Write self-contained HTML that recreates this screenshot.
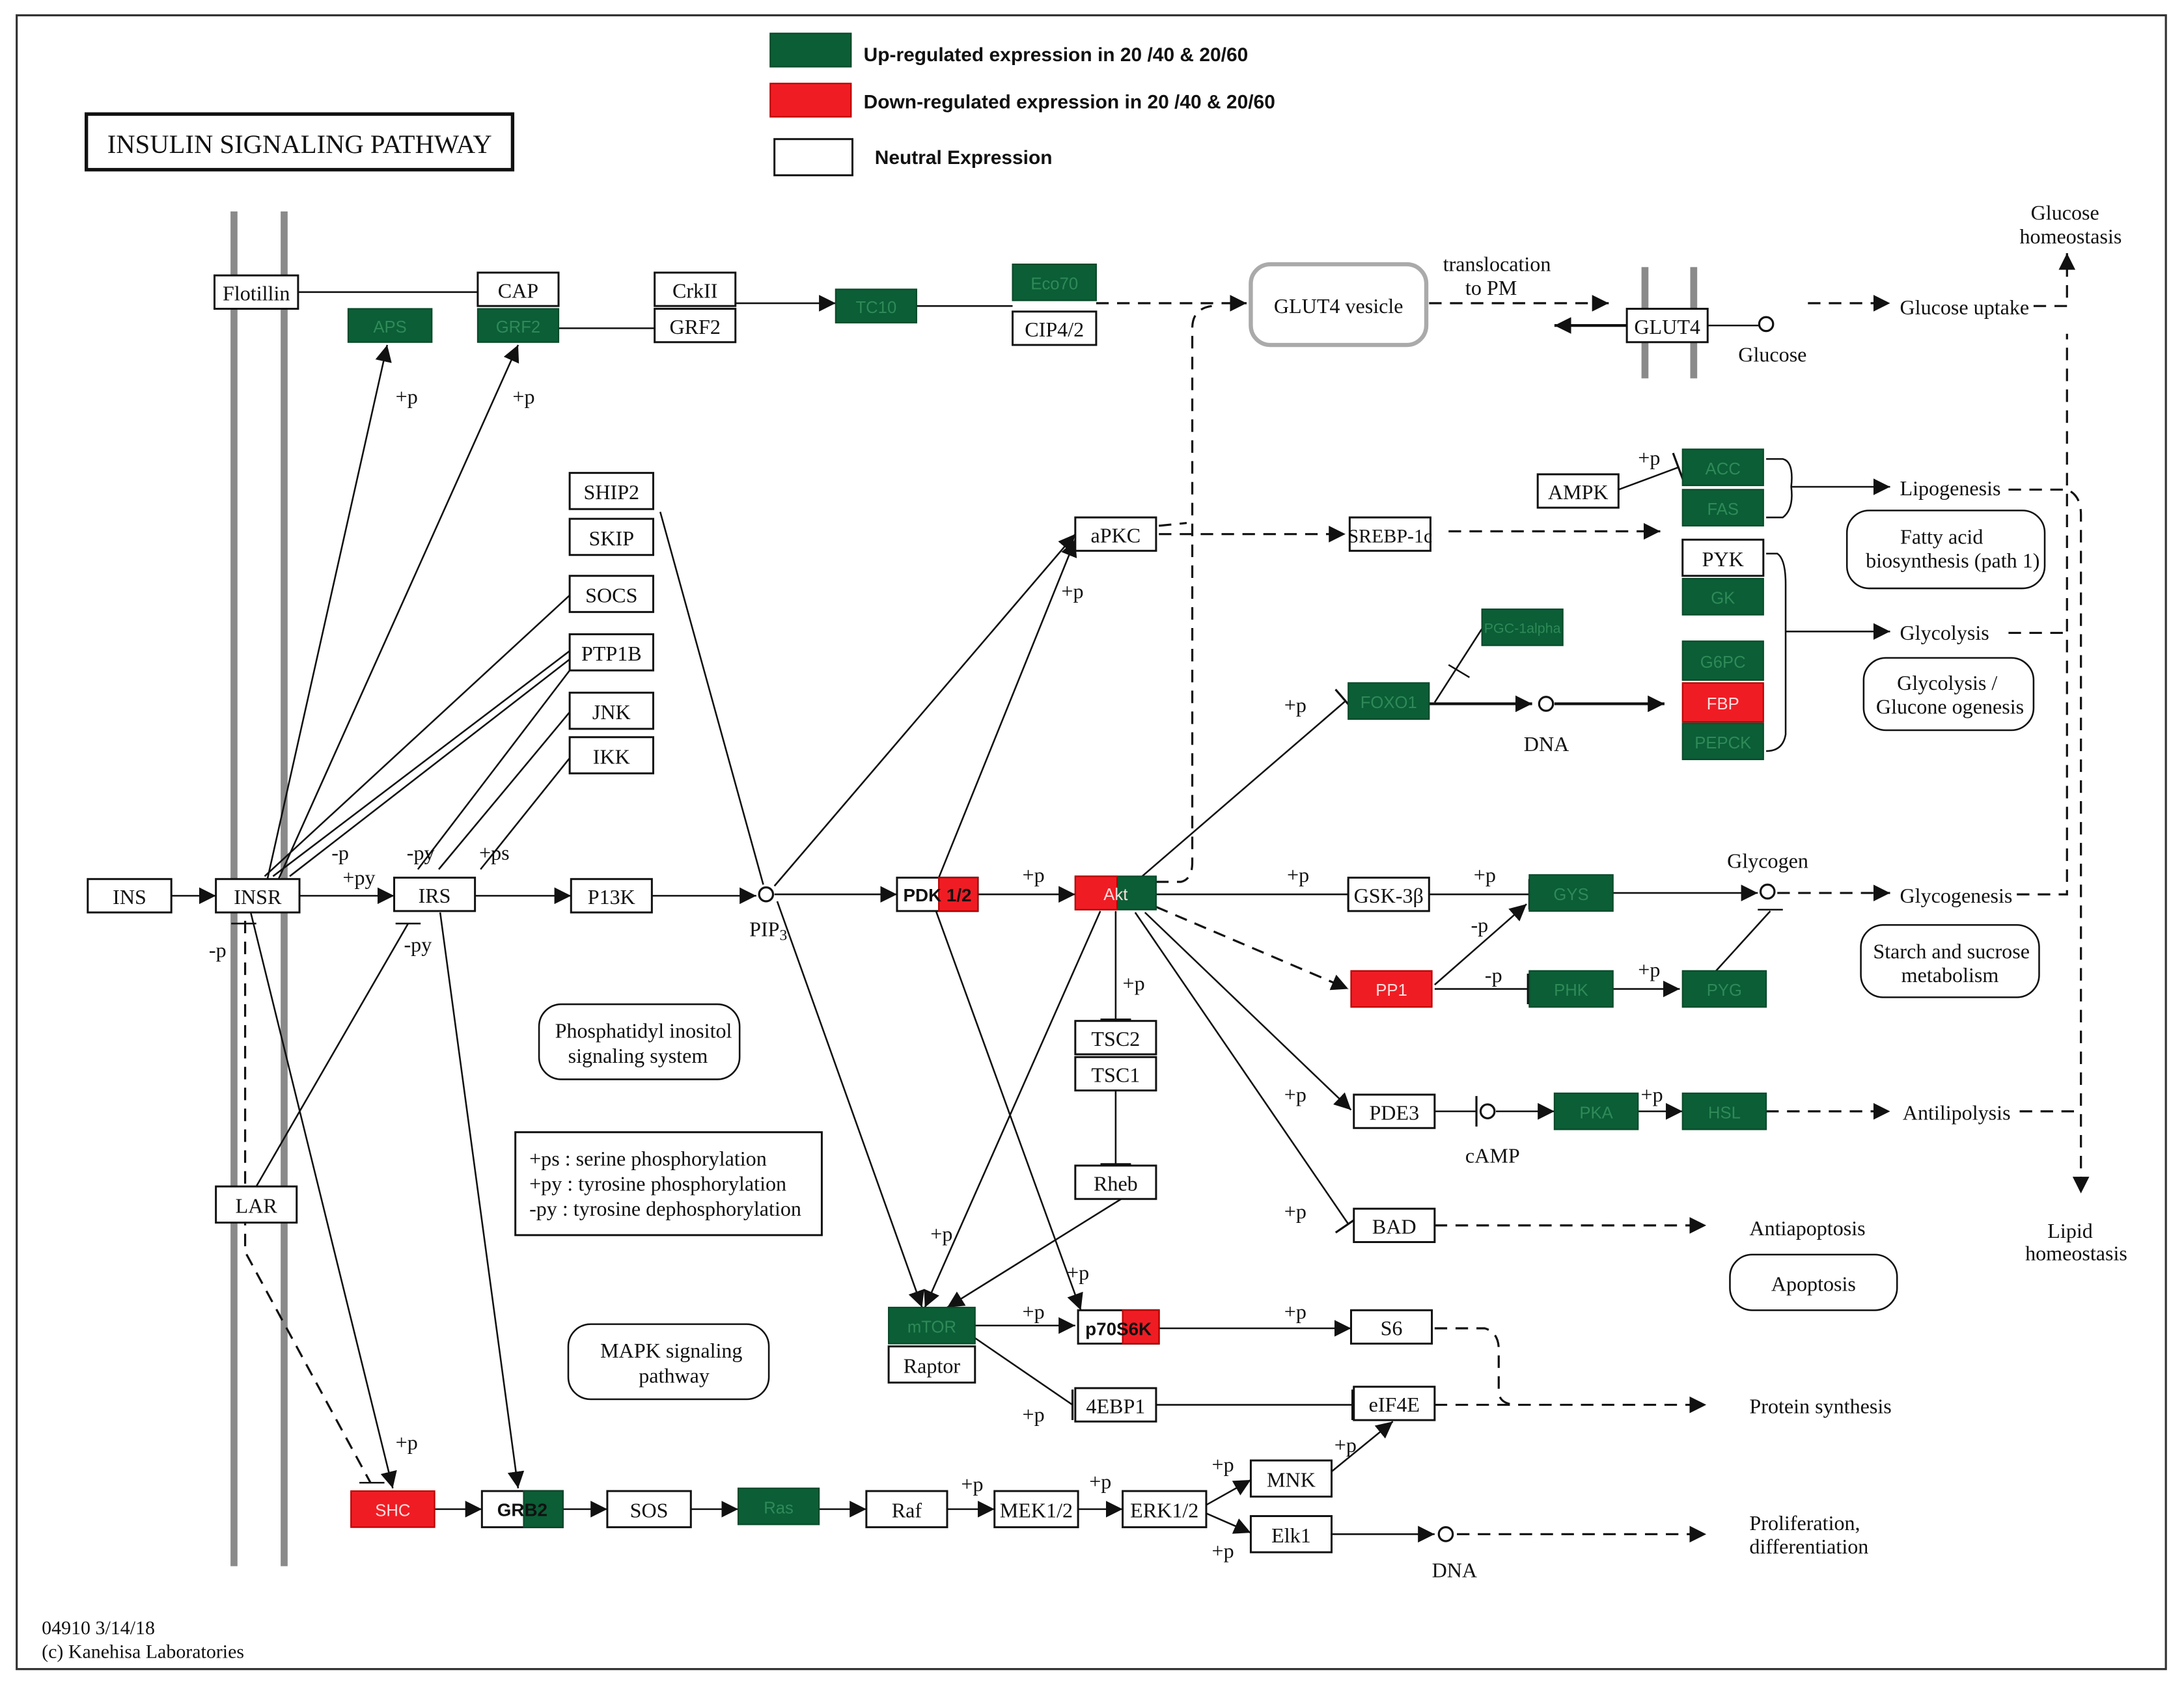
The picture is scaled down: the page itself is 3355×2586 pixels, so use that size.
<!DOCTYPE html>
<html><head><meta charset="utf-8"><style>
html,body{margin:0;padding:0;background:#fff}
svg{display:block}
text{font-family:"Liberation Serif",serif;font-size:15px;fill:#111}
.b{fill:#fff;stroke:#111;stroke-width:1.4}
.g{fill:#0b5e36;stroke:#0a4a2a;stroke-width:1}
.r{fill:#f01c24;stroke:#b00;stroke-width:1}
.gt{fill:#2f8a57;font-family:"Liberation Sans",sans-serif;font-size:12px}
.rt{fill:#ffdede;font-family:"Liberation Sans",sans-serif;font-size:12px}
.l{stroke:#111;stroke-width:1.2;fill:none}
.d{stroke:#111;stroke-width:1.5;fill:none;stroke-dasharray:9,6}
.rd{fill:#fff;stroke:#111;stroke-width:1.2}
.m{stroke:#8a8a8a;stroke-width:5}
</style></head><body>
<svg width="3355" height="2586" viewBox="0 0 1568 1210" preserveAspectRatio="none" xmlns="http://www.w3.org/2000/svg">
<defs>
<marker id="a" markerUnits="userSpaceOnUse" markerWidth="14" markerHeight="12" refX="12" refY="6" orient="auto"><path d="M0,0 L12,6 L0,12 z" fill="#111"/></marker>
<marker id="t" markerUnits="userSpaceOnUse" markerWidth="4" markerHeight="22" refX="2" refY="11" orient="auto"><path d="M2,0 L2,22" stroke="#111" stroke-width="1.5"/></marker>
</defs>
<rect x="12" y="11" width="1543" height="1189" fill="none" stroke="#333" stroke-width="1.5"/>
<!-- legend -->
<rect x="553" y="24" width="58" height="24" class="g"/>
<text x="620" y="44" style="font-family:'Liberation Sans',sans-serif;font-size:14px;font-weight:bold">Up-regulated expression in 20 /40 &amp; 20/60</text>
<rect x="553" y="60" width="58" height="24" class="r"/>
<text x="620" y="78" style="font-family:'Liberation Sans',sans-serif;font-size:14px;font-weight:bold">Down-regulated expression in 20 /40 &amp; 20/60</text>
<rect x="556" y="100" width="56" height="26" class="b"/>
<text x="628" y="118" style="font-family:'Liberation Sans',sans-serif;font-size:14px;font-weight:bold">Neutral Expression</text>
<rect x="62" y="82" width="306" height="40" fill="#fff" stroke="#111" stroke-width="2.5"/>
<text x="77" y="110" style="font-size:19px">INSULIN  SIGNALING  PATHWAY</text>
<!-- membranes -->
<line x1="168" y1="152" x2="168" y2="1126" class="m"/><line x1="204" y1="152" x2="204" y2="1126" class="m"/>
<line x1="1181" y1="192" x2="1181" y2="272" class="m"/><line x1="1216" y1="192" x2="1216" y2="272" class="m"/>
<!-- edges -->
<g>
<line x1="214" y1="210" x2="343" y2="210" class="l"/>
<line x1="401" y1="236" x2="470" y2="236" class="l"/>
<line x1="528" y1="218" x2="600" y2="218" class="l" marker-end="url(#a)"/>
<line x1="658" y1="220" x2="727" y2="220" class="l"/>
<line x1="787" y1="218" x2="895" y2="218" class="d" marker-end="url(#a)"/>
<line x1="1026" y1="218" x2="1155" y2="218" class="d" marker-end="url(#a)"/>
<line x1="1168" y1="234" x2="1116" y2="234" class="l" style="stroke-width:2" marker-end="url(#a)"/>
<line x1="1226" y1="234" x2="1263" y2="234" class="l"/>
<line x1="1298" y1="218" x2="1357" y2="218" class="d" marker-end="url(#a)"/>
<path d="M1460,220 L1484,220 L1484,182" class="d" marker-end="url(#a)"/>
<line x1="192" y1="632" x2="278" y2="248" class="l" marker-end="url(#a)"/>
<line x1="200" y1="632" x2="372" y2="248" class="l" marker-end="url(#a)"/>
<line x1="123" y1="644" x2="155" y2="644" class="l" marker-end="url(#a)"/>
<line x1="215" y1="644" x2="283" y2="644" class="l" marker-end="url(#a)"/>
<line x1="341" y1="644" x2="410" y2="644" class="l" marker-end="url(#a)"/>
<line x1="468" y1="644" x2="543" y2="644" class="l" marker-end="url(#a)"/>
<line x1="556" y1="643" x2="644" y2="643" class="l" marker-end="url(#a)"/>
<line x1="702" y1="643" x2="772" y2="643" class="l" marker-end="url(#a)"/>
<line x1="830" y1="643" x2="968" y2="643" class="l" marker-end="url(#t)"/>
<line x1="1026" y1="643" x2="1098" y2="643" class="l" marker-end="url(#t)"/>
<line x1="1158" y1="642" x2="1262" y2="642" class="l" marker-end="url(#a)"/>
<line x1="1276" y1="642" x2="1357" y2="642" class="d" marker-end="url(#a)"/>
<path d="M1448,643 L1484,643 L1484,240" class="d"/>
<line x1="474" y1="368" x2="548" y2="636" class="l"/>
<line x1="409" y1="428" x2="190" y2="630" class="l"/>
<line x1="409" y1="468" x2="196" y2="630" class="l"/>
<line x1="409" y1="474" x2="208" y2="630" class="l"/>
<line x1="409" y1="482" x2="300" y2="625" class="l"/>
<line x1="409" y1="512" x2="315" y2="625" class="l"/>
<line x1="409" y1="545" x2="345" y2="625" class="l"/>
<line x1="556" y1="637" x2="772" y2="384" class="l" marker-end="url(#a)"/>
<line x1="558" y1="648" x2="662" y2="940" class="l" marker-end="url(#a)"/>
<line x1="674" y1="631" x2="772" y2="388" class="l" marker-end="url(#a)"/>
<line x1="672" y1="655" x2="776" y2="942" class="l" marker-end="url(#a)"/>
<line x1="790" y1="655" x2="664" y2="940" class="l" marker-end="url(#a)"/>
<line x1="805" y1="862" x2="680" y2="940" class="l" marker-end="url(#a)"/>
<line x1="801" y1="655" x2="801" y2="733" class="l" marker-end="url(#t)"/>
<line x1="801" y1="784" x2="801" y2="837" class="l" marker-end="url(#t)"/>
<line x1="820" y1="630" x2="966" y2="504" class="l" marker-end="url(#t)"/>
<line x1="1026" y1="506" x2="1100" y2="506" class="l" style="stroke-width:2" marker-end="url(#a)"/>
<line x1="1116" y1="506" x2="1195" y2="506" class="l" style="stroke-width:2" marker-end="url(#a)"/>
<line x1="1064" y1="452" x2="1030" y2="505" class="l"/><line x1="1040" y1="478" x2="1055" y2="487" class="l"/>
<line x1="830" y1="652" x2="968" y2="711" class="d" marker-end="url(#a)"/>
<line x1="1030" y1="708" x2="1096" y2="650" class="l" marker-end="url(#a)"/>
<line x1="1030" y1="711" x2="1097" y2="711" class="l" marker-end="url(#t)"/>
<line x1="1158" y1="711" x2="1206" y2="711" class="l" marker-end="url(#a)"/>
<line x1="1232" y1="698" x2="1271" y2="655" class="l"/><line x1="1262" y1="654" x2="1280" y2="654" class="l"/>
<line x1="822" y1="656" x2="970" y2="798" class="l" marker-end="url(#a)"/>
<line x1="1030" y1="799" x2="1060" y2="799" class="l" marker-end="url(#t)"/>
<line x1="1074" y1="799" x2="1116" y2="799" class="l" marker-end="url(#a)"/>
<line x1="1176" y1="799" x2="1208" y2="799" class="l" marker-end="url(#a)"/>
<line x1="1268" y1="799" x2="1357" y2="799" class="d" marker-end="url(#a)"/>
<path d="M1450,799 L1492,799" class="d"/>
<line x1="815" y1="656" x2="968" y2="880" class="l" marker-end="url(#t)"/>
<line x1="1030" y1="881" x2="1225" y2="881" class="d" marker-end="url(#a)"/>
<line x1="700" y1="953" x2="772" y2="953" class="l" marker-end="url(#a)"/>
<line x1="832" y1="955" x2="970" y2="955" class="l" marker-end="url(#a)"/>
<path d="M1030,955 L1066,955 Q1076,958 1076,970 L1076,1000 Q1076,1010 1090,1010" class="d"/>
<line x1="700" y1="962" x2="770" y2="1010" class="l"/><line x1="770" y1="1010" x2="770" y2="1010" class="l" marker-end="url(#t)"/>
<line x1="830" y1="1010" x2="971" y2="1010" class="l" marker-end="url(#t)"/>
<line x1="1030" y1="1010" x2="1225" y2="1010" class="d" marker-end="url(#a)"/>
<line x1="832" y1="384" x2="966" y2="384" class="d" marker-end="url(#a)"/>
<line x1="1040" y1="382" x2="1192" y2="382" class="d" marker-end="url(#a)"/>
<path d="M830,634 L848,634 Q856,632 856,620 L856,236 Q856,222 870,220" class="d"/>
<path d="M832,378 L852,376" class="d"/>
<line x1="1162" y1="352" x2="1205" y2="336" class="l" marker-end="url(#t)"/>
<path d="M1268,330 L1280,330 Q1288,332 1286,350 Q1288,366 1280,372 L1268,372" class="l"/>
<line x1="1286" y1="350" x2="1357" y2="350" class="l" marker-end="url(#a)"/>
<path d="M1268,398 L1276,398 Q1282,402 1282,420 L1282,528 Q1280,540 1268,540" class="l"/>
<line x1="1282" y1="454" x2="1357" y2="454" class="l" marker-end="url(#a)"/>
<path d="M1442,352 L1484,352 Q1494,356 1494,370 L1494,858" class="d" marker-end="url(#a)"/>
<line x1="1442" y1="455" x2="1484" y2="455" class="d"/>
<line x1="180" y1="656" x2="282" y2="1070" class="l" marker-end="url(#a)"/>
<path d="M176,662 L176,900 L266,1066" class="d"/><line x1="258" y1="1066" x2="276" y2="1066" class="l"/>
<line x1="166" y1="664" x2="184" y2="664" class="l"/>
<line x1="184" y1="853" x2="293" y2="664" class="l"/><line x1="284" y1="664" x2="302" y2="664" class="l"/>
<line x1="316" y1="656" x2="372" y2="1070" class="l" marker-end="url(#a)"/>
<line x1="312" y1="1085" x2="346" y2="1085" class="l" marker-end="url(#a)"/>
<line x1="404" y1="1085" x2="436" y2="1085" class="l" marker-end="url(#a)"/>
<line x1="496" y1="1085" x2="530" y2="1085" class="l" marker-end="url(#a)"/>
<line x1="588" y1="1085" x2="622" y2="1085" class="l" marker-end="url(#a)"/>
<line x1="680" y1="1085" x2="714" y2="1085" class="l" marker-end="url(#a)"/>
<line x1="774" y1="1085" x2="806" y2="1085" class="l" marker-end="url(#a)"/>
<line x1="866" y1="1082" x2="898" y2="1064" class="l" marker-end="url(#a)"/>
<line x1="866" y1="1088" x2="898" y2="1102" class="l" marker-end="url(#a)"/>
<line x1="956" y1="1058" x2="1000" y2="1022" class="l" marker-end="url(#a)"/>
<line x1="956" y1="1103" x2="1030" y2="1103" class="l" marker-end="url(#a)"/>
<line x1="1046" y1="1103" x2="1225" y2="1103" class="d" marker-end="url(#a)"/>
</g>
<!-- nodes -->
<g text-anchor="middle">
<rect x="154" y="198" width="60" height="24" class="b"/><text x="184" y="216">Flotillin</text>
<rect x="343" y="196" width="58" height="24" class="b"/><text x="372" y="214">CAP</text>
<rect x="250" y="222" width="60" height="24" class="g"/><text x="280" y="239" class="gt">APS</text>
<rect x="343" y="222" width="58" height="24" class="g"/><text x="372" y="239" class="gt">GRF2</text>
<rect x="470" y="196" width="58" height="24" class="b"/><text x="499" y="214">CrkII</text>
<rect x="470" y="222" width="58" height="24" class="b"/><text x="499" y="240">GRF2</text>
<rect x="600" y="208" width="58" height="24" class="g"/><text x="629" y="225" class="gt">TC10</text>
<rect x="727" y="190" width="60" height="26" class="g"/><text x="757" y="208" class="gt">Eco70</text>
<rect x="727" y="224" width="60" height="24" class="b"/><text x="757" y="242">CIP4/2</text>
<rect x="898" y="190" width="126" height="58" rx="14" fill="#fff" stroke="#aaa" stroke-width="3"/><text x="961" y="225">GLUT4 vesicle</text>
<rect x="1168" y="222" width="58" height="24" class="b"/><text x="1197" y="240">GLUT4</text>
<rect x="409" y="340" width="60" height="26" class="b"/><text x="439" y="359">SHIP2</text>
<rect x="409" y="373" width="60" height="26" class="b"/><text x="439" y="392">SKIP</text>
<rect x="409" y="414" width="60" height="26" class="b"/><text x="439" y="433">SOCS</text>
<rect x="409" y="456" width="60" height="26" class="b"/><text x="439" y="475">PTP1B</text>
<rect x="409" y="498" width="60" height="26" class="b"/><text x="439" y="517">JNK</text>
<rect x="409" y="530" width="60" height="26" class="b"/><text x="439" y="549">IKK</text>
<rect x="63" y="632" width="60" height="24" class="b"/><text x="93" y="650">INS</text>
<rect x="155" y="632" width="60" height="24" class="b"/><text x="185" y="650">INSR</text>
<rect x="283" y="631" width="58" height="24" class="b"/><text x="312" y="649">IRS</text>
<rect x="410" y="632" width="58" height="24" class="b"/><text x="439" y="650">P13K</text>
<rect x="644" y="631" width="58" height="24" class="b"/><rect x="674" y="631" width="28" height="24" class="r"/><text x="673" y="648" style="font-family:'Liberation Sans',sans-serif;font-size:13px;font-weight:bold">PDK 1/2</text>
<rect x="772" y="630" width="58" height="24" class="g"/><rect x="772" y="630" width="30" height="24" class="r"/><text x="801" y="647" class="rt">Akt</text>
<rect x="772" y="372" width="58" height="24" class="b"/><text x="801" y="390">aPKC</text>
<rect x="969" y="372" width="58" height="24" class="b"/><text x="998" y="390" style="font-size:14px">SREBP-1c</text>
<rect x="1104" y="341" width="58" height="24" class="b"/><text x="1133" y="359">AMPK</text>
<rect x="1208" y="323" width="58" height="26" class="g"/><text x="1237" y="341" class="gt">ACC</text>
<rect x="1208" y="352" width="58" height="26" class="g"/><text x="1237" y="370" class="gt">FAS</text>
<rect x="1208" y="388" width="58" height="26" class="b"/><text x="1237" y="407">PYK</text>
<rect x="1208" y="416" width="58" height="26" class="g"/><text x="1237" y="434" class="gt">GK</text>
<rect x="1064" y="438" width="58" height="26" class="g"/><text x="1093" y="455" class="gt" style="font-size:10px">PGC-1alpha</text>
<rect x="968" y="491" width="58" height="26" class="g"/><text x="997" y="509" class="gt">FOXO1</text>
<rect x="1208" y="461" width="58" height="28" class="g"/><text x="1237" y="480" class="gt">G6PC</text>
<rect x="1208" y="491" width="58" height="28" class="r"/><text x="1237" y="510" class="rt">FBP</text>
<rect x="1208" y="520" width="58" height="26" class="g"/><text x="1237" y="538" class="gt">PEPCK</text>
<rect x="968" y="631" width="58" height="24" class="b"/><text x="997" y="649">GSK-3β</text>
<rect x="1098" y="629" width="60" height="26" class="g"/><text x="1128" y="647" class="gt">GYS</text>
<rect x="970" y="698" width="58" height="26" class="r"/><text x="999" y="716" class="rt">PP1</text>
<rect x="1098" y="698" width="60" height="26" class="g"/><text x="1128" y="716" class="gt">PHK</text>
<rect x="1208" y="698" width="60" height="26" class="g"/><text x="1238" y="716" class="gt">PYG</text>
<rect x="772" y="734" width="58" height="24" class="b"/><text x="801" y="752">TSC2</text>
<rect x="772" y="760" width="58" height="24" class="b"/><text x="801" y="778">TSC1</text>
<rect x="772" y="838" width="58" height="24" class="b"/><text x="801" y="856">Rheb</text>
<rect x="972" y="787" width="58" height="24" class="b"/><text x="1001" y="805">PDE3</text>
<rect x="1116" y="786" width="60" height="26" class="g"/><text x="1146" y="804" class="gt">PKA</text>
<rect x="1208" y="786" width="60" height="26" class="g"/><text x="1238" y="804" class="gt">HSL</text>
<rect x="972" y="869" width="58" height="24" class="b"/><text x="1001" y="887">BAD</text>
<rect x="638" y="940" width="62" height="26" class="g"/><text x="669" y="958" class="gt">mTOR</text>
<rect x="638" y="968" width="62" height="26" class="b"/><text x="669" y="987">Raptor</text>
<rect x="774" y="942" width="58" height="24" class="b"/><rect x="806" y="942" width="26" height="24" class="r"/><text x="803" y="960" style="font-family:'Liberation Sans',sans-serif;font-size:13px;font-weight:bold">p70S6K</text>
<rect x="970" y="942" width="58" height="24" class="b"/><text x="999" y="960">S6</text>
<rect x="772" y="998" width="58" height="24" class="b"/><text x="801" y="1016">4EBP1</text>
<rect x="972" y="997" width="58" height="24" class="b"/><text x="1001" y="1015">eIF4E</text>
<rect x="155" y="853" width="58" height="26" class="b"/><text x="184" y="872">LAR</text>
<rect x="252" y="1072" width="60" height="26" class="r"/><text x="282" y="1090" class="rt">SHC</text>
<rect x="346" y="1072" width="58" height="26" class="b"/><rect x="376" y="1072" width="28" height="26" class="g"/><text x="375" y="1090" style="font-family:'Liberation Sans',sans-serif;font-size:13px;font-weight:bold">GRB2</text>
<rect x="436" y="1072" width="60" height="26" class="b"/><text x="466" y="1091">SOS</text>
<rect x="530" y="1070" width="58" height="26" class="g"/><text x="559" y="1088" class="gt">Ras</text>
<rect x="622" y="1072" width="58" height="26" class="b"/><text x="651" y="1091">Raf</text>
<rect x="714" y="1072" width="60" height="26" class="b"/><text x="744" y="1091">MEK1/2</text>
<rect x="806" y="1072" width="60" height="26" class="b"/><text x="836" y="1091">ERK1/2</text>
<rect x="898" y="1050" width="58" height="26" class="b"/><text x="927" y="1069">MNK</text>
<rect x="898" y="1090" width="58" height="26" class="b"/><text x="927" y="1109">Elk1</text>
<!-- rounded maps -->
<rect x="387" y="722" width="144" height="54" rx="16" class="rd"/><text x="462" y="746">Phosphatidyl inositol</text><text x="458" y="764">signaling system</text>
<rect x="408" y="952" width="144" height="54" rx="16" class="rd"/><text x="482" y="976">MAPK signaling</text><text x="484" y="994">pathway</text>
<rect x="1326" y="367" width="142" height="56" rx="16" class="rd"/><text x="1394" y="391">Fatty acid</text><text x="1402" y="408">biosynthesis (path 1)</text>
<rect x="1338" y="473" width="122" height="52" rx="16" class="rd"/><text x="1398" y="496">Glycolysis /</text><text x="1400" y="513">Glucone ogenesis</text>
<rect x="1336" y="665" width="128" height="52" rx="16" class="rd"/><text x="1401" y="689">Starch and sucrose</text><text x="1400" y="706">metabolism</text>
<rect x="1242" y="902" width="120" height="40" rx="16" class="rd"/><text x="1302" y="928">Apoptosis</text>
</g>
<!-- circles -->
<g fill="#fff" stroke="#111" stroke-width="1.5">
<circle cx="1268" cy="233" r="5"/><circle cx="550" cy="643" r="5"/><circle cx="1110" cy="506" r="5"/>
<circle cx="1269" cy="641" r="5"/><circle cx="1068" cy="799" r="5"/><circle cx="1038" cy="1103" r="5"/>
</g>
<rect x="370" y="814" width="220" height="74" class="b"/>
<text x="380" y="838">+ps : serine phosphorylation</text>
<text x="380" y="856">+py : tyrosine phosphorylation</text>
<text x="380" y="874">-py : tyrosine dephosphorylation</text>
<!-- labels -->
<g>
<text x="1458" y="158">Glucose</text><text x="1450" y="175">homeostasis</text>
<text x="1364" y="226">Glucose uptake</text>
<text x="1364" y="356">Lipogenesis</text>
<text x="1364" y="460">Glycolysis</text>
<text x="1364" y="649">Glycogenesis</text>
<text x="1366" y="805">Antilipolysis</text>
<text x="1470" y="890">Lipid</text><text x="1454" y="906">homeostasis</text>
<text x="1256" y="888">Antiapoptosis</text>
<text x="1256" y="1016">Protein synthesis</text>
<text x="1256" y="1100">Proliferation,</text><text x="1256" y="1117">differentiation</text>
<text x="1036" y="195">translocation</text><text x="1052" y="212">to PM</text>
<text x="1248" y="260">Glucose</text>
<text x="1094" y="540">DNA</text>
<text x="1052" y="836">cAMP</text>
<text x="1240" y="624">Glycogen</text>
<text x="1028" y="1134">DNA</text>
<text x="538" y="673">PIP<tspan style="font-size:11px" dy="3">3</tspan></text>
<text x="284" y="290">+p</text><text x="368" y="290">+p</text>
<text x="246" y="636">+py</text><text x="238" y="618">-p</text><text x="292" y="618">-py</text><text x="344" y="618">+ps</text>
<text x="150" y="688">-p</text><text x="290" y="684">-py</text>
<text x="734" y="634">+p</text><text x="762" y="430">+p</text><text x="806" y="712">+p</text>
<text x="924" y="634">+p</text><text x="1058" y="634">+p</text><text x="1176" y="334">+p</text>
<text x="922" y="512">+p</text><text x="1056" y="670">-p</text><text x="1066" y="706">-p</text><text x="1176" y="702">+p</text>
<text x="922" y="792">+p</text><text x="1178" y="792">+p</text><text x="922" y="876">+p</text>
<text x="668" y="892">+p</text><text x="766" y="920">+p</text><text x="734" y="948">+p</text><text x="922" y="948">+p</text>
<text x="734" y="1022">+p</text><text x="284" y="1042">+p</text><text x="690" y="1072">+p</text><text x="782" y="1070">+p</text>
<text x="870" y="1058">+p</text><text x="870" y="1120">+p</text><text x="958" y="1044">+p</text>
<text x="30" y="1175" style="font-size:14px">04910 3/14/18</text>
<text x="30" y="1192" style="font-size:14px">(c) Kanehisa Laboratories</text>
</g>
</svg>
</body></html>
